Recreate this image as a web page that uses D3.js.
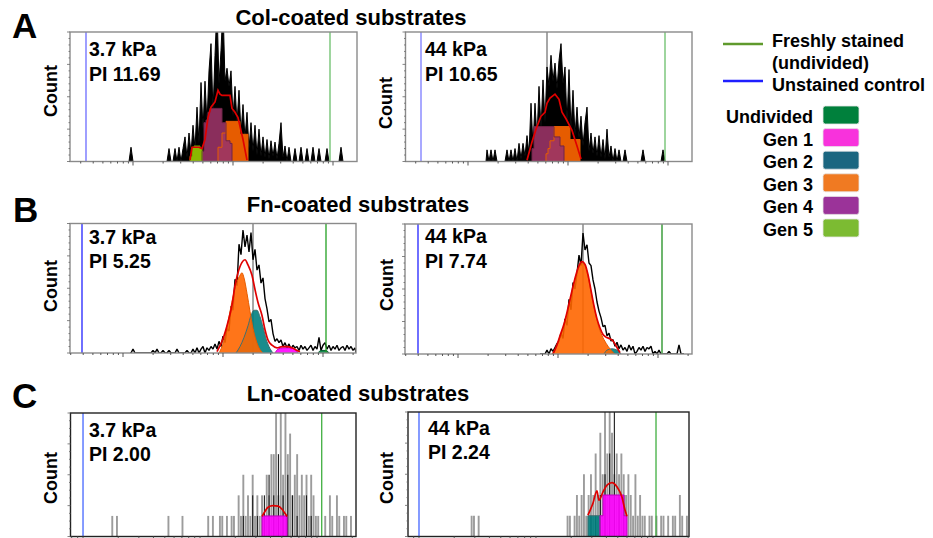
<!DOCTYPE html>
<html><head><meta charset="utf-8">
<script src="https://cdn.jsdelivr.net/npm/d3@7"></script>
<style>
body{margin:0;background:#fff;}
svg{display:block;font-family:"Liberation Sans",Arial,Helvetica,sans-serif;font-weight:bold;}
</style></head><body>
<svg id="chart" width="933" height="538"></svg>
<script>
// ================= DATA =================
// x values are log10(fluorescence) x 100 ("channels"); y values are event counts.
const rowTitles = ["Col-coated substrates", "Fn-coated substrates", "Ln-coated substrates"];
const rowLetters = ["A", "B", "C"];
const stiffnessLabels = ["3.7 kPa", "44 kPa"];
const piLabels = ["PI 11.69", "PI 10.65", "PI 5.25", "PI 7.74", "PI 2.00", "PI 2.24"];
const legendLineLabels = [["Freshly stained", "(undivided)"], ["Unstained control"]];
const legendGenLabels = ["Undivided", "Gen 1", "Gen 2", "Gen 3", "Gen 4", "Gen 5"];
const legendGenKeys = ["undivided", "gen1", "gen2", "gen3", "gen4", "gen5"];

const BIN = 2; // histogram bin width in channels

// gates: unstained control (blue), freshly stained (green), peak marker (grey)
const blueGate  = [153, 153, 159, 160, 200, 200];
const greenGate = [397, 397, 403, 404, 404, 402.6];
const markerGate = [null, 279, 330, 325, null, null];

// ---- A: Col, 3.7 kPa ----
const histA1Start = 195;
const histA1 = [0,11,0,0,0,0,0,0,0,0,0,0,0,0,0,0,0,0,
  0,0,10,0,0,10,0,11,0,10,
  19,3,22,6,28,10,42,14,61,25,
  62,30,70,91,38,82,120,60,86,120,
  62,72,58,70,35,58,30,55,22,44,
  18,38,10,30,8,28,5,25,4,19,
  3,17,2,16,4,15,2,14,30,3,
  12,0,11,0,0,10,0,0,11,0,
  0,10,0,0,11,0,0,10,0,0,
  0,10,0,0,0,0,0,0,11,0];
const gen5A1 = [[257,4],[259,11],[261,12],[267,10],[269,0]];
const gen4A1 = [[269,8],[271,30],[273,32],[275,38],[277,41],[289,30],[293,16],[297,14],[299,0]];
const gen3A1 = [[285,11],[289,22],[293,31],[307,21],[315,0]];
const modelA1 = [[257,1],[259,11],[266,11],[269,10],[272,17],[275,34],[278,42],[282,46],[285,55],[287,52],[289,51],[297,51],[299,41],[302,38],[305,34],[310,17],[314,1]];

// ---- A: Col, 44 kPa ----
const histA2Start = 218;
const histA2 = [9,0,9,0,9,0,0,0,0,0,
  9,0,9,0,10,0,14,2,14,4,
  20,6,45,12,45,18,58,25,63,30,
  73,58,82,62,76,56,78,91,60,73,
  30,71,25,55,20,42,18,35,12,30,
  42,8,22,6,19,4,20,3,17,2,
  25,3,12,0,10,0,9,0,0,9,
  0,0,0,0,0,0,0,0,9,0,
  0,0,0,0,0,0,0,0,9,0];
const gen4A2 = [[264,10],[266,27],[286,19],[292,12],[296,0]];
const gen3A2 = [[278,6],[280,10],[282,16],[286,27],[302,17],[312,0]];
const modelA2 = [[259,1],[264,15],[268,25],[273,35],[277,38],[279,45],[282,49],[287,52],[291,48],[294,38],[298,33],[304,24],[309,12],[313,2]];

// ---- B: Fn, 3.7 kPa ----
const histB1Start = 207;
const histB1 = [0,3,0,0,0,0,0,0,0,0,
  0,2,0,3,0,0,2,0,0,2,
  0,0,0,3,0,0,0,0,2,0,
  0,3,0,4,0,3,5,0,4,2,
  5,3,7,3,9,5,13,8,19,17,
  36,33,57,52,84,76,95,82,91,78,
  93,72,80,64,68,54,58,42,34,24,
  26,15,9,11,8,10,5,8,4,7,
  3,6,4,5,2,6,3,5,2,4,
  6,2,5,3,12,2,6,8,3,6,
  2,5,3,6,2,4,5,2,6,3,
  5,2,4];
const gen3B1 = [[296,0],[299,5],[302,13],[305,24],[308,36],[311,47],[314,55],[317,60],[319,62],[321,58],[324,46],[327,32],[330,19],[333,10],[336,4],[340,0]];
const gen2B1 = [[313,0],[317,5],[321,12],[325,21],[328,29],[331,33],[334,33],[337,28],[340,20],[343,11],[346,5],[350,0]];
const gen1B1 = [[352,0],[355,3],[360,4],[367,4],[372,3],[375,0]];
const gen0B1 = [[395,0],[398,2],[403,2],[406,0]];
const modelB1 = [[294,1],[300,11],[305,24],[309,37],[312,52],[315,62],[319,70],[322,72],[325,68],[329,60],[332,49],[335,39],[339,29],[342,18],[345,10],[349,6],[354,4],[359,5],[364,5],[369,4],[374,2],[377,1]];

// ---- B: Fn, 44 kPa ----
const histB2Start = 282;
const histB2 = [0,0,0,3,0,4,2,5,8,10,
  16,12,27,22,42,34,55,50,62,76,
  68,93,80,84,70,68,57,50,40,33,
  28,21,22,14,16,10,11,6,9,4,
  7,3,5,2,7,3,6,0,2,5,
  3,6,2,5,4,6,0,2,0,3,
  0,0,0,0,2,0,0,0,0,7,
  0,0];
const gen3B2 = [[294,0],[298,5],[302,13],[306,22],[309,31],[312,41],[315,51],[318,60],[321,67],[324,70],[327,68],[330,60],[333,48],[336,36],[339,26],[342,18],[346,11],[350,6],[354,2],[357,0]];
const gen2B2 = [[346,0],[349,3],[354,4],[359,3],[363,0]];
const modelB2 = [[295,0],[299,7],[302,14],[306,23],[309,32],[312,42],[315,52],[318,61],[321,68],[324,71],[327,69],[330,61],[333,49],[336,37],[339,27],[342,20],[345,15],[348,13],[351,12],[355,10],[359,5],[362,1]];

// ---- C: Ln, 3.7 kPa ----
const histC1GreyStart = 222;
const histC1Grey = [0,4,0,4,0,0,0,0,0,0,
  0,0,0,0,0,0,0,0,0,0,
  0,0,0,0,0,4,0,0,0,0,
  0,4,0,0,0,0,0,0,0,0,
  0,0,4,0,4,0,0,4,4,0,
  4,0,4,4,0,8,4,12,4,8,
  4,12,4,8,4,8,4,12,8,16,
  16,26,8,26,12,26,16,20,8,12,
  16,8,12,8,12,4,12,8,4,4,
  0,0,4,0,8,4,0,8,4,0,
  4,4,0,4,0];
const histC1BlackStart = 332;
const histC1Black = [0,0,4,0,0,0,8,0,4,0,0,8,0,12,0,8,0,16,0,8,0,12,0,8,0,4,0,0,0,8,0,4,0];
const gen1C1 = [[353,4],[374.4,0]];
const modelC1 = [[353,3.9],[355.6,4.9],[358.1,5.7],[362.4,6.0],[366.7,5.9],[370.1,5.3],[372.6,4.5],[374.4,3.9]];

// ---- C: Ln, 44 kPa ----
const histC2GreyStart = 240;
const histC2Grey = [0,0,4,4,0,4,0,0,0,0,
  0,0,0,0,0,0,0,0,0,0,
  0,0,0,0,0,0,0,0,0,0,
  0,0,0,0,0,0,0,0,0,0,
  0,0,0,4,4,0,4,8,4,8,
  12,4,8,12,8,16,8,20,12,26,
  16,26,20,12,16,12,16,12,8,12,
  8,4,12,4,8,4,4,0,4,4,
  0,4,0,4,4,0,4,0,4,4,
  0,8,4,0,4,0];
const histC2BlackStart = 346;
const histC2Black = [4,0,4,0,8,0,12,0,16,0,26,0,8,0,8,0,0];
const gen2C2 = [[344.4,4],[354.7,0]];
const gen1C2 = [[354.7,4],[357.3,8],[375.2,4],[377.8,0]];
const modelC2 = [[344.4,4.1],[348.7,6.4],[352.1,8.8],[353.8,7.0],[357.3,8.6],[360.7,9.9],[365,10.4],[369.2,9.6],[373.5,7.6],[376.1,5.1],[377.8,3.9]];

// ================= LAYOUT / STYLE =================
const genFill = {undivided:"#008040", gen1:"#ff00ff", gen2:"#008080", gen3:"#ff6600", gen4:"#993366", gen5:"#99cc00"};
const genLine = {undivided:"#005a2d", gen1:"#c000c0", gen2:"#3f6f70", gen3:"#e65c00", gen4:"#6e2448", gen5:"#6f9a00"};
const legendBoxColor = {undivided:"#00803c", gen1:"#f832dc", gen2:"#1b6680", gen3:"#f07a22", gen4:"#9b3399", gen5:"#7cbb32"};
const drawOrder = ["gen2","gen3","gen4","gen5","gen1","undivided"];

const panels = [
  {box:[70,32,357,161.5], cDom:[137,424], yMax:100, yMajor:25, yMinor:5, step:true, modelCurve:d3.curveLinear,
   hist:[{start:histA1Start, values:histA1, color:"#000", w:1, mode:"area"}],
   gens:{gen3:gen3A1, gen4:gen4A1, gen5:gen5A1}, model:modelA1,
   blueC:"#6b6bff", greenC:"#6abf6a", boxC:"#8a8a8a",
   lab:[89,56,81], count:[57,91]},
  {box:[405.5,32,692,161.5], cDom:[137.5,424], yMax:100, yMajor:25, yMinor:5, step:true, modelCurve:d3.curveLinear,
   hist:[{start:histA2Start, values:histA2, color:"#000", w:1, mode:"area"}],
   gens:{gen3:gen3A2, gen4:gen4A2}, model:modelA2,
   blueC:"#7b7bff", greenC:"#6abf6a", boxC:"#8a8a8a",
   lab:[425,56,81], count:[392,103]},
  {box:[70,223.5,356,353], cDom:[147,433], yMax:100, yMajor:25, yMinor:5, step:false, modelCurve:d3.curveMonotoneX,
   hist:[{start:histB1Start, values:histB1, color:"#000", w:1.4, mode:"line"}],
   gens:{gen3:gen3B1, gen2:gen2B1, gen1:gen1B1, undivided:gen0B1}, model:modelB1,
   blueC:"#2222ff", greenC:"#22a022", boxC:"#8a8a8a",
   lab:[89,244,268], count:[57,286]},
  {box:[405,224,692,354], cDom:[147,434], yMax:100, yMajor:25, yMinor:5, step:false, modelCurve:d3.curveMonotoneX,
   hist:[{start:histB2Start, values:histB2, color:"#000", w:1.4, mode:"line"}],
   gens:{gen3:gen3B2, gen2:gen2B2}, model:modelB2,
   blueC:"#2222ff", greenC:"#1f8f1f", boxC:"#8a8a8a",
   lab:[425,243,268], count:[393,285]},
  {box:[70.5,413,356,536.5], cDom:[189.3,433.3], yMax:24, yMajor:6, yMinor:1.5, step:true, modelCurve:d3.curveMonotoneX,
   hist:[{start:histC1GreyStart, values:histC1Grey, color:"#9c9c9c", w:1.9, mode:"bars"},{start:histC1BlackStart, values:histC1Black, color:"#1a1a1a", w:1.1, mode:"bars"}],
   gens:{gen1:gen1C1}, model:modelC1,
   blueC:"#4466ff", greenC:"#3fae3f", boxC:"#222",
   lab:[89,437,461], count:[57,478]},
  {box:[408,412,689,536.5], cDom:[190.6,430.8], yMax:24, yMajor:6, yMinor:1.5, step:true, modelCurve:d3.curveMonotoneX,
   hist:[{start:histC2GreyStart, values:histC2Grey, color:"#9c9c9c", w:1.9, mode:"bars"},{start:histC2BlackStart, values:histC2Black, color:"#1a1a1a", w:1.1, mode:"bars"}],
   gens:{gen2:gen2C2, gen1:gen1C2}, model:modelC2,
   blueC:"#4466ff", greenC:"#3fae3f", boxC:"#222",
   lab:[428,435,459], count:[393,478]}
];

const svg = d3.select("#chart");
const defs = svg.append("defs");
const CH = c => Math.pow(10, c / 100);

panels.forEach((p, i) => {
  const [bx0, by0, bx1, by1] = p.box;
  const xs = d3.scaleLog().domain([CH(p.cDom[0]), CH(p.cDom[1])]).range([bx0, bx1]);
  const X = c => xs(CH(c));
  const Y = d3.scaleLinear().domain([0, p.yMax]).range([by1, by0]);
  defs.append("clipPath").attr("id", "clip" + i).append("rect")
    .attr("x", bx0).attr("y", by0).attr("width", bx1 - bx0).attr("height", by1 - by0);
  const g = svg.append("g");
  const pg = g.append("g").attr("clip-path", `url(#clip${i})`);

  if (markerGate[i] != null) {
    pg.append("line").attr("x1", X(markerGate[i])).attr("x2", X(markerGate[i]))
      .attr("y1", by0).attr("y2", by1).attr("stroke", "#808080").attr("stroke-width", 1.4);
  }
  // histograms
  const hLine = d3.line().x(d => X(d[0])).y(d => Y(d[1])).curve(d3.curveLinear);
  const hArea = d3.area().x(d => X(d[0])).y0(Y(0)).y1(d => Y(d[1])).curve(d3.curveLinear);
  p.hist.forEach(h => {
    if (h.mode === "line" || h.mode === "area") {
      const pts = h.values.map((v, k) => [h.start + k * BIN + BIN / 2, v]);
      pts.unshift([h.start, 0]);
      pts.push([h.start + h.values.length * BIN, 0]);
      if (h.mode === "area") pg.append("path").attr("d", hArea(pts)).attr("fill", h.color);
      pg.append("path").attr("d", hLine(pts)).attr("fill", "none")
        .attr("stroke", h.color).attr("stroke-width", h.w).attr("stroke-linejoin", "bevel");
    } else {
      h.values.forEach((v, k) => {
        if (!v) return;
        const cx = X(h.start + k * BIN + BIN / 2);
        pg.append("rect").attr("x", cx - h.w / 2).attr("width", h.w)
          .attr("y", Y(v)).attr("height", Y(0) - Y(v)).attr("fill", h.color);
      });
    }
  });
  // generation fits
  const curve = p.step ? d3.curveStepAfter : d3.curveMonotoneX;
  const area = d3.area().x(d => X(d[0])).y0(Y(0)).y1(d => Y(d[1])).curve(curve);
  const line = d3.line().x(d => X(d[0])).y(d => Y(d[1])).curve(curve);
  drawOrder.forEach(k => {
    if (!p.gens[k]) return;
    pg.append("path").attr("d", area(p.gens[k])).attr("fill", genFill[k]).attr("fill-opacity", 0.9);
  });
  drawOrder.forEach(k => {
    if (!p.gens[k]) return;
    const pts = [[p.gens[k][0][0], 0]].concat(p.gens[k]);
    pg.append("path").attr("d", line(pts)).attr("fill", "none")
      .attr("stroke", genLine[k]).attr("stroke-width", 1);
  });
  // model (sum of generations)
  pg.append("path").attr("d", d3.line().x(d => X(d[0])).y(d => Y(d[1])).curve(p.modelCurve)(p.model))
    .attr("fill", "none").attr("stroke", "#e00000").attr("stroke-width", 1.7);
  // gates
  pg.append("line").attr("x1", X(blueGate[i])).attr("x2", X(blueGate[i])).attr("y1", by0).attr("y2", by1)
    .attr("stroke", p.blueC).attr("stroke-width", 1.3);
  pg.append("line").attr("x1", X(greenGate[i])).attr("x2", X(greenGate[i])).attr("y1", by0).attr("y2", by1)
    .attr("stroke", p.greenC).attr("stroke-width", 1.3);

  // box
  g.append("rect").attr("x", bx0).attr("y", by0).attr("width", bx1 - bx0).attr("height", by1 - by0)
    .attr("fill", "none").attr("stroke", p.boxC).attr("stroke-width", 1.4);
  // x ticks (log)
  xs.ticks().forEach(t => {
    const major = Math.abs(Math.log10(t) - Math.round(Math.log10(t))) < 1e-6;
    g.append("line").attr("x1", xs(t)).attr("x2", xs(t)).attr("y1", by1).attr("y2", by1 + (major ? 4 : 2))
      .attr("stroke", "#555").attr("stroke-width", 1);
  });
  // y ticks
  d3.range(0, p.yMax + 1e-6, p.yMinor).forEach(v => {
    const major = Math.abs(v / p.yMajor - Math.round(v / p.yMajor)) < 1e-6;
    g.append("line").attr("x1", bx0).attr("x2", bx0 - (major ? 3 : 1.5)).attr("y1", Y(v)).attr("y2", Y(v))
      .attr("stroke", "#666").attr("stroke-width", 0.8);
  });
  // labels
  g.append("text").attr("x", p.lab[0]).attr("y", p.lab[1]).attr("font-size", 19.5).text(stiffnessLabels[i % 2]);
  g.append("text").attr("x", p.lab[0]).attr("y", p.lab[2]).attr("font-size", 19.5).text(piLabels[i]);
  g.append("text").attr("transform", `translate(${p.count[0]},${p.count[1]}) rotate(-90)`)
    .attr("text-anchor", "middle").attr("font-size", 18).text("Count");
});

// row letters and titles
const letterPos = [[12, 38], [13, 222], [12, 408]];
const titlePos = [[351, 25], [358, 212], [358, 400.5]];
rowLetters.forEach((L, r) => {
  svg.append("text").attr("x", letterPos[r][0]).attr("y", letterPos[r][1]).attr("font-size", 35).text(L);
  svg.append("text").attr("x", titlePos[r][0]).attr("y", titlePos[r][1]).attr("font-size", 22)
    .attr("text-anchor", "middle").text(rowTitles[r]);
});

// legend
const legLineColors = ["#5f9a2c", "#1f1fff"];
const legLineY = [44, 81];
const legTextY = [[47, 69], [91]];
legendLineLabels.forEach((lab, j) => {
  svg.append("line").attr("x1", 723).attr("x2", 763).attr("y1", legLineY[j]).attr("y2", legLineY[j])
    .attr("stroke", legLineColors[j]).attr("stroke-width", 2.6);
  lab.forEach((t, m) => svg.append("text").attr("x", 772).attr("y", legTextY[j][m]).attr("font-size", 18).text(t));
});
legendGenLabels.forEach((t, j) => {
  const top = 106 + j * 22.6;
  svg.append("rect").attr("x", 823).attr("y", top).attr("width", 36).attr("height", 18).attr("rx", 2.5)
    .attr("fill", legendBoxColor[legendGenKeys[j]]).attr("stroke", "#e6e6e6").attr("stroke-width", 0.8);
  svg.append("text").attr("x", 813).attr("y", top + 17).attr("text-anchor", "end").attr("font-size", 18).text(t);
});
</script>
</body></html>
